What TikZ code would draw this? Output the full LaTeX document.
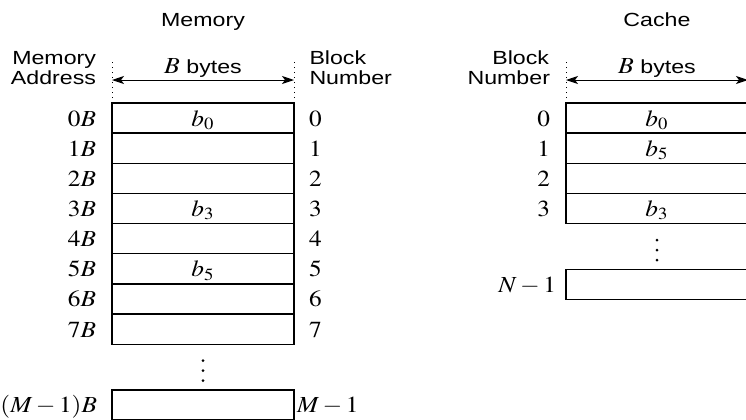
\documentclass[tikz,border=0pt]{standalone}
\usepackage{mathptmx}
\usepackage[no-math]{fontspec}
\setmainfont{Liberation Sans}
\usepackage{graphicx}
\usetikzlibrary{arrows.meta}
\newcommand\xs[1]{\scalebox{1.22}[1]{#1}}
\newcommand\xm[1]{\scalebox{1.1}[1]{#1}}
\begin{document}
\begin{tikzpicture}[x=0.5pt,y=-0.5pt,
  sans/.style={font=\fontsize{9.5}{10}\selectfont, inner sep=0pt, outer sep=0pt},
  mth/.style={font=\fontsize{11.5}{12}\selectfont, inner sep=0pt, outer sep=0pt},
  cell/.style={draw, line width=0.7pt, minimum width=91pt, minimum height=15.075pt, inner sep=0pt, outer sep=0pt},
  guide/.style={dotted, line width=0.5pt},
  dim/.style={line width=0.5pt, {Stealth[length=6pt,width=4pt,inset=1.5pt]}-{Stealth[length=6pt,width=4pt,inset=1.5pt]}},
  dot/.style={fill=black}]
\useasboundingbox (0,0) rectangle (746,419);
\clip (0,0) rectangle (746,419);
% ---------------- Memory ----------------
\foreach \i in {0,...,7} \node[cell] (m\i) at (203,118.075+30.15*\i) {};
\node[cell] (mlast) at (203,405.075) {};
\node[sans, anchor=base] (memtitle) at (203,26) {\xs{Memory}};
\node[sans, anchor=base east] (maddr1) at (96,64) {\xs{Memory}};
\node[sans, anchor=base east] (maddr2) at (96,84) {\xs{Address}};
\node[sans, anchor=base west] (mblk1) at (309.5,64) {\xs{Block}};
\node[sans, anchor=base west] (mblk2) at (309.5,84) {\xs{Number}};
\node[sans, anchor=base] (mbytes) at (203,73) {\xs{{\fontsize{11.5}{12}\selectfont\scalebox{0.92}[1]{$B$}} bytes}};
\draw[guide] (m0.north west) -- ++(0,-43);
\draw[guide] (m0.north east) -- ++(0,-43);
\draw[dim] (m0.north west |- 0,80) -- (m0.north east |- 0,80);
\foreach \i in {0,...,7} {
  \path (m\i.north west) ++(-16,23) node[mth, anchor=base east] (ma\i) {\xm{$\i B$}};
  \path (m\i.north east) ++(15,23) node[mth, anchor=base west] (mn\i) {\xm{$\i$}};
}
\path (m0.north) ++(0,23) node[mth, anchor=base] (mb0) {\xm{$b_0$}};
\path (m3.north) ++(0,23) node[mth, anchor=base] (mb3) {\xm{$b_3$}};
\path (m5.north) ++(0,23) node[mth, anchor=base] (mb5) {\xm{$b_5$}};
\foreach \d in {16.5,26.5,36.5} \fill[dot] (m7.south) ++(0,\d) circle (0.75pt);
\path (mlast.north west) ++(-15,22) node[mth, anchor=base east] (malast) {\xm{$(M-1)B$}};
\path (mlast.north east) ++(3,22) node[mth, anchor=base west] (mnlast) {\xm{$M-1$}};
% ---------------- Cache ----------------
\foreach \i in {0,...,3} \node[cell] (c\i) at (657,118.075+30.15*\i) {};
\node[cell] (clast) at (657,284.475) {};
\node[sans, anchor=base] (cachetitle) at (657,26) {\xs{Cache}};
\node[sans, anchor=base east] (cblk1) at (549,64) {\xs{Block}};
\node[sans, anchor=base east] (cblk2) at (550,84) {\xs{Number}};
\node[sans, anchor=base] (cbytes) at (657,73) {\xs{{\fontsize{11.5}{12}\selectfont\scalebox{0.92}[1]{$B$}} bytes}};
\draw[guide] (c0.north west) -- ++(0,-43);
\draw[guide] (c0.north east) -- ++(0,-43);
\draw[dim] (c0.north west |- 0,80) -- (c0.north east |- 0,80);
\foreach \i in {0,...,3} {
  \path (c\i.north west) ++(-16,23) node[mth, anchor=base east] (cn\i) {\xm{$\i$}};
}
\path (c0.north) ++(0,23) node[mth, anchor=base] (cb0) {\xm{$b_0$}};
\path (c1.north) ++(0,23) node[mth, anchor=base] (cb5) {\xm{$b_5$}};
\path (c3.north) ++(0,23) node[mth, anchor=base] (cb3) {\xm{$b_3$}};
\foreach \d in {16.5,26.5,36.5} \fill[dot] (c3.south) ++(0,\d) circle (0.75pt);
\path (clast.north west) ++(-10,23) node[mth, anchor=base east] (cnlast) {\xm{$N-1$}};
\end{tikzpicture}
\end{document}
